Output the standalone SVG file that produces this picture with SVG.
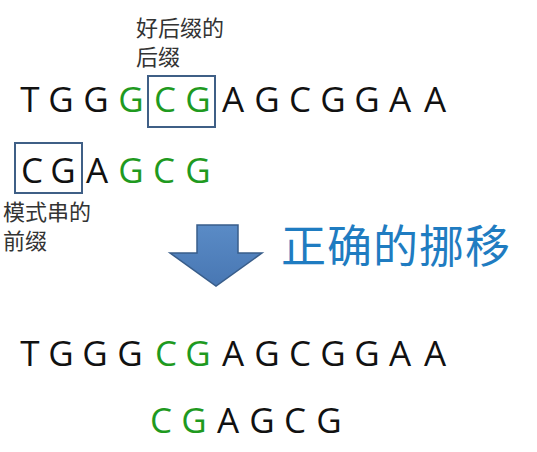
<svg xmlns="http://www.w3.org/2000/svg" width="537" height="452" viewBox="0 0 537 452">
  <defs>
    <style>
      .seq { font-family: "Open Sans", "Liberation Sans", sans-serif; font-size: 35px; fill: #111; text-anchor: middle; }
      .g { fill: #1f9a1f; }
      .lbl { font-family: "Noto Sans CJK SC", "Noto Sans", sans-serif; font-size: 22px; fill: #333; }
      .title { font-family: "Noto Sans CJK SC", "Noto Sans", sans-serif; font-size: 45px; fill: #1f7cc1; letter-spacing: 1px; }
      .box { fill: none; stroke: #3f5f86; stroke-width: 2; }
    </style>
    <linearGradient id="arrowGrad" x1="0" y1="0" x2="0" y2="1">
      <stop offset="0" stop-color="#5a8bc6"/>
      <stop offset="1" stop-color="#4877b3"/>
    </linearGradient>
  </defs>
  <rect width="537" height="452" fill="#ffffff"/>

  <g id="text-row1">
    <text class="seq" y="112">
      <tspan x="30">T</tspan><tspan x="61">G</tspan><tspan x="96">G</tspan><tspan x="131" class="g">G</tspan><tspan x="165" class="g">C</tspan><tspan x="198" class="g">G</tspan><tspan x="233">A</tspan><tspan x="267">G</tspan><tspan x="300">C</tspan><tspan x="333">G</tspan><tspan x="367">G</tspan><tspan x="400">A</tspan><tspan x="435">A</tspan>
    </text>
  </g>
  <g id="box-suffix">
    <rect class="box" x="148" y="76" width="67" height="51"/>
  </g>
  <g id="label-suffix">
    <text class="lbl" x="136" y="36">好后缀的</text>
    <text class="lbl" x="136" y="65">后缀</text>
  </g>

  <g id="text-row2">
    <text class="seq" y="183">
      <tspan x="32">C</tspan><tspan x="63">G</tspan><tspan x="97">A</tspan><tspan x="131" class="g">G</tspan><tspan x="164" class="g">C</tspan><tspan x="198" class="g">G</tspan>
    </text>
  </g>
  <g id="box-prefix">
    <rect class="box" x="15" y="143" width="67" height="50"/>
  </g>
  <g id="label-prefix">
    <text class="lbl" x="3" y="220">模式串的</text>
    <text class="lbl" x="3" y="249">前缀</text>
  </g>

  <g id="arrow">
    <polygon points="197,225 238,225 238,253 262,253 216,286 170,253 197,253" fill="url(#arrowGrad)" stroke="#385d8a" stroke-width="1.5"/>
  </g>
  <g id="title">
    <text class="title" x="281" y="263">正确的挪移</text>
  </g>

  <g id="text-row3">
    <text class="seq" y="366">
      <tspan x="30">T</tspan><tspan x="61">G</tspan><tspan x="95">G</tspan><tspan x="130">G</tspan><tspan x="166" class="g">C</tspan><tspan x="198" class="g">G</tspan><tspan x="233">A</tspan><tspan x="267">G</tspan><tspan x="300">C</tspan><tspan x="333">G</tspan><tspan x="367">G</tspan><tspan x="400">A</tspan><tspan x="435">A</tspan>
    </text>
  </g>
  <g id="text-row4">
    <text class="seq" y="433">
      <tspan x="161" class="g">C</tspan><tspan x="194" class="g">G</tspan><tspan x="228">A</tspan><tspan x="262">G</tspan><tspan x="295">C</tspan><tspan x="329">G</tspan>
    </text>
  </g>
</svg>
